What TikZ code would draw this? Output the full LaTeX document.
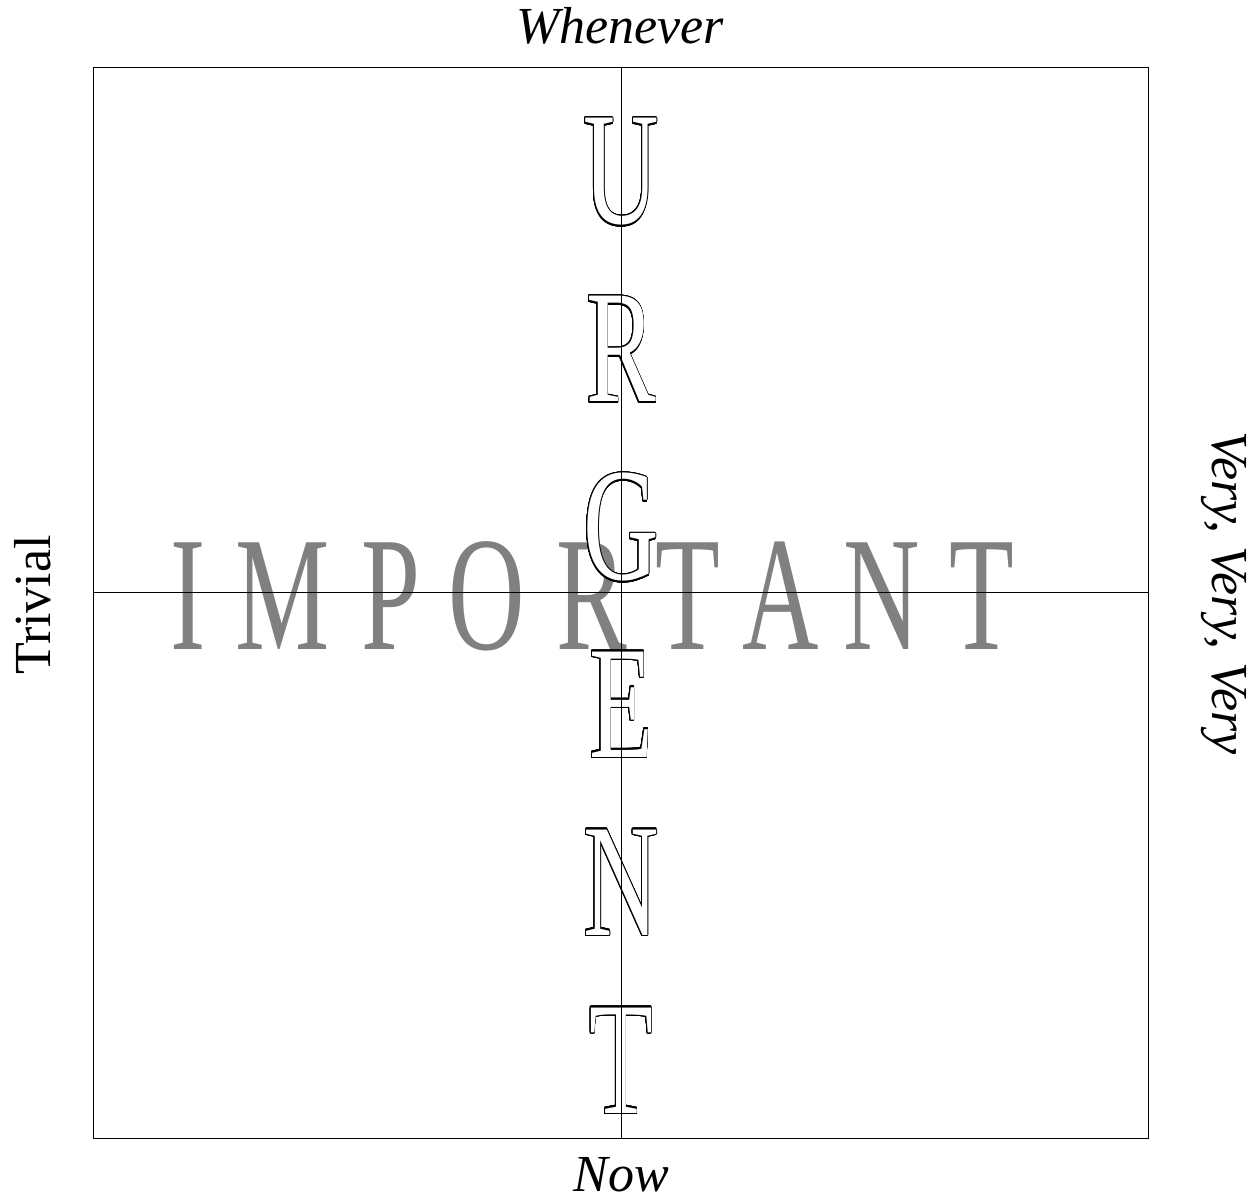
\documentclass[tikz,border=0pt]{standalone}
\usepackage{fontspec}
\setmainfont{Liberation Serif}
\usepackage[copies]{contour}
\contourlength{0.6pt}
\contournumber{32}
\begin{document}
\begin{tikzpicture}[x=0.5pt,y=0.5pt,
  frame/.style={line width=0.5pt,draw=black},
  lbl/.style={font=\fontsize{26pt}{30pt}\selectfont\itshape, anchor=base, inner sep=0pt},
  imp/.style={font=\fontsize{81.5pt}{90pt}\selectfont, text=gray, anchor=base, inner sep=0pt},
  urg/.style={font=\fontsize{80.5pt}{90pt}\selectfont, text=white, anchor=base, inner sep=0pt}]
\useasboundingbox (0,0) rectangle (1256,1200);
% IMPORTANT
\foreach \l/\x [count=\i] in {I/188,M/283,P/391,O/487,R/592,T/688,A/781,N/882,T/982}
  \node[imp] (imp\i) at (\x,551) {\scalebox{0.65}[1]{\l}};
% URGENT
\foreach \l/\y [count=\i] in {U/976,R/798,G/620,E/443,N/265,T/87}
  \node[urg] (urg\i) at (621,\y) {\scalebox{0.65}[1]{\contour{black}{\l}}};
% frame and axes
\coordinate (bl) at (93,62);
\coordinate (tr) at (1148,1132);
\coordinate (top) at (621,1132);
\coordinate (bot) at (621,62);
\coordinate (lft) at (93,607);
\coordinate (rgt) at (1148,607);
\draw[frame] (bl) rectangle (tr);
\draw[frame] (bot) -- (top);
\draw[frame] (lft) -- (rgt);
% labels
\node[lbl] (when) at (620,1156) {Whenever};
\node[lbl] (now) at (621,9) {Now};
\node[lbl, font=\fontsize{26pt}{30pt}\selectfont\upshape, rotate=90] (triv) at (50,595) {Trivial};
\node[lbl, rotate=-90] (very) at (1212,607) {Very, Very, Very};
\end{tikzpicture}
\end{document}
